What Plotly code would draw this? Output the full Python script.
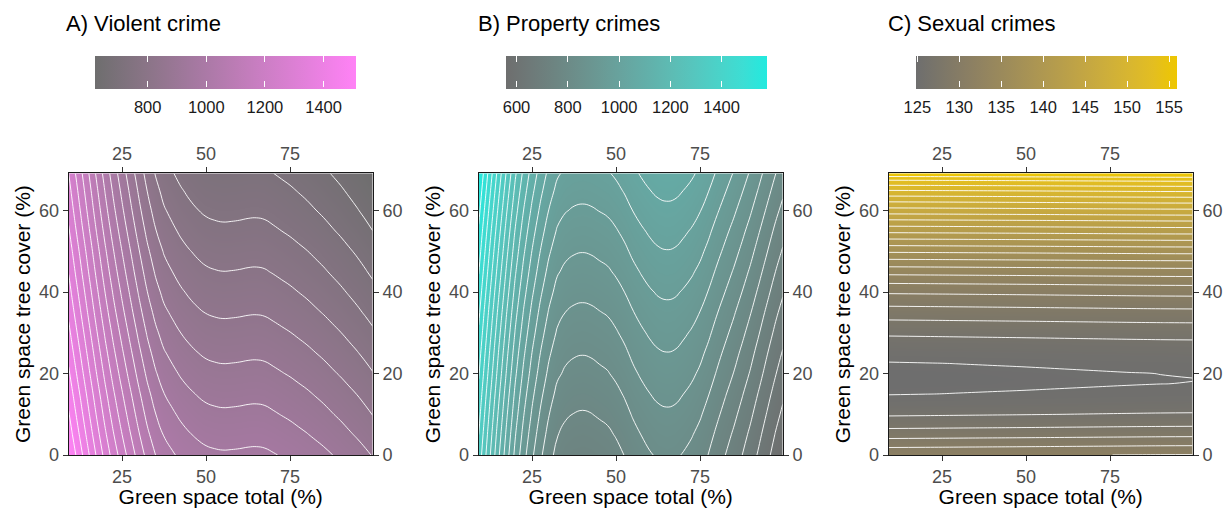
import numpy as np
import plotly.graph_objects as go

# ---------------- data ----------------
# Grid of "Green space total (%)" used for panels A and B
x_total = [9.1, 10, 12.5, 15, 17.5, 20, 22.5, 25, 27.5, 30, 32.5, 35, 37.5, 40, 42.5, 45,
           47.5, 50, 52.5, 55, 57.5, 60, 62.5, 65, 67.5, 70, 72.5, 75, 77.5, 80, 82.5, 85,
           87.5, 90, 92.5, 95, 97.5, 99.6]
# Grid of "Green space tree cover (%)" used for panels A and B
y_tree = [0, 5, 10, 15, 20, 25, 30, 35, 40, 45, 50, 55, 60, 65, 69.2]

# A) Violent crime: partial effect of green space total (at max tree cover) and of tree cover
violent_x_effect = [1258, 1239, 1187, 1134, 1081, 1030, 983, 940, 899, 859, 822, 792, 769, 755,
                    742, 732, 724, 718, 715, 713.5, 714, 715, 716.5, 717, 715.5, 711, 706, 701, 695,
                    689, 682, 675, 667, 659, 650, 641, 631, 622]
violent_y_effect = [255, 234, 214, 195, 175, 156, 137, 118, 100, 82, 65, 47, 30, 14, 0]

# B) Property crimes
property_x_effect = [1336, 1305, 1220, 1137, 1058, 984, 923, 871, 827, 790, 762, 749, 743, 741,
                     743, 748, 753, 763, 776, 792, 805, 816, 824, 827, 825, 817, 807, 793, 774,
                     752, 731, 710, 687, 663, 636, 608, 580, 559]
property_y_effect = [0, 15, 31, 47, 64, 80, 97, 114, 132, 150, 168, 186, 205, 224, 240]

# C) Sexual crimes
sexual_x = [9.1, 20, 30, 40, 50, 60, 70, 80, 90, 99.6]
sexual_x_effect = [124.90, 124.93, 124.96, 124.99, 125.02, 125.055, 125.09, 125.125, 125.155, 125.172]
sexual_y = [0, 2.5, 5, 7.5, 10, 12.5, 15, 17.5, 18.5, 20, 22.5, 25, 27.5, 30, 32.5, 35, 37.5,
            40, 42.5, 45, 47.5, 50, 52.5, 55, 57.5, 60, 62.5, 65, 67.5, 69.2]
sexual_y_effect = [6.72, 5.2, 3.7, 2.44, 1.45, 0.71, 0.24, 0.02, 0.0, 0.03, 0.23, 0.62, 1.12,
                   1.83, 2.68, 3.64, 4.66, 5.76, 7.12, 8.73, 10.48, 12.42, 14.44, 16.57, 18.65,
                   20.94, 23.17, 25.55, 28.21, 30.7]

titles = ["A) Violent crime", "B) Property crimes", "C) Sexual crimes"]
scale_ranges = [(622, 1512), (558, 1576), (124.9, 156.0)]
scale_ticks = [[800, 1000, 1200, 1400], [600, 800, 1000, 1200, 1400],
               [125, 130, 135, 140, 145, 150, 155]]
contour_levels = [(668.7, 1510, 42.1), (597.9, 1530, 44.3), (125.18, 155.0, 1.33)]
high_colors = ["#FF82F6", "#22EADF", "#EEC700"]
low_color = "#6E6E6E"

x_ticks = [25, 50, 75]
y_ticks = [0, 20, 40, 60]
x_label = "Green space total (%)"
y_label = "Green space tree cover (%)"

# ---------------- helpers ----------------
def _lin(c):
    c = c / 255.0
    return c / 12.92 if c <= 0.04045 else ((c + 0.055) / 1.055) ** 2.4

def _gam(c):
    c = 12.92 * c if c <= 0.0031308 else 1.055 * (max(c, 0) ** (1 / 2.4)) - 0.055
    return int(max(0, min(255, round(c * 255))))

def hex_rgb(h):
    h = h.lstrip('#')
    return tuple(int(h[i:i + 2], 16) for i in (0, 2, 4))

def rgb_lab(rgb):
    r, g, b = [_lin(v) for v in rgb]
    X = (0.4124 * r + 0.3576 * g + 0.1805 * b) / 0.95047
    Y = (0.2126 * r + 0.7152 * g + 0.0722 * b)
    Z = (0.0193 * r + 0.1192 * g + 0.9505 * b) / 1.08883
    f = lambda t: t ** (1 / 3) if t > 0.008856 else 7.787 * t + 16 / 116
    fx, fy, fz = f(X), f(Y), f(Z)
    return (116 * fy - 16, 500 * (fx - fy), 200 * (fy - fz))

def lab_rgb(lab):
    L, a, b = lab
    fy = (L + 16) / 116
    fx = fy + a / 500
    fz = fy - b / 200
    finv = lambda t: t ** 3 if t ** 3 > 0.008856 else (t - 16 / 116) / 7.787
    X, Y, Z = 0.95047 * finv(fx), finv(fy), 1.08883 * finv(fz)
    r = 3.2406 * X - 1.5372 * Y - 0.4986 * Z
    g = -0.9689 * X + 1.8758 * Y + 0.0415 * Z
    bb = 0.0557 * X - 0.2040 * Y + 1.0570 * Z
    return tuple(_gam(v) for v in (r, g, bb))

def lab_scale(c0, c1, n=12):
    l0, l1 = rgb_lab(hex_rgb(c0)), rgb_lab(hex_rgb(c1))
    out = []
    for i in range(n):
        t = i / (n - 1)
        lab = tuple(l0[k] + (l1[k] - l0[k]) * t for k in range(3))
        r, g, b = lab_rgb(lab)
        out.append([t, f"rgb({r},{g},{b})"])
    return out

# ---------------- figure ----------------
# The page body has an 8 px margin, so the figure is drawn 8 px smaller and
# all screen positions below are shifted by that offset.
OFF = 8
W, H = 1231 - OFF, 508 - OFF
FONT = "Liberation Sans, Arial, Helvetica, sans-serif"
px_x = lambda v: (v - OFF) / W
px_y = lambda v: 1 - (v - OFF) / H

panel_left = [68.7, 478.7, 888.7]
panel_w = 304.0
plot_top, plot_bot = 173.3, 455.0
bar_left = [95.7, 506.0, 916.7]
bar_len = 260.5
bar_top, bar_h = 56.0, 31.0
title_x = [64.0, 475.6, 885.6]

surfaces = [
    (x_total, y_tree, np.add.outer(violent_y_effect, violent_x_effect)),
    (x_total, y_tree, np.add.outer(property_y_effect, property_x_effect)),
    (sexual_x, sexual_y, np.add.outer(sexual_y_effect, sexual_x_effect)),
]

fig = go.Figure()
layout = dict(width=W, height=H, margin=dict(l=0, r=0, t=0, b=0, autoexpand=False),
              paper_bgcolor="white", plot_bgcolor="white",
              font=dict(family=FONT), showlegend=False, annotations=[])

axis_common = dict(showgrid=False, zeroline=False, showline=True, linecolor="#1a1a1a",
                   linewidth=1.2, ticks="outside", ticklen=5, tickwidth=1.1,
                   tickcolor="#333333", tickfont=dict(size=18, color="#4D4D4D", family=FONT))

for i in range(3):
    n = i + 1
    xs, ys, z = surfaces[i]
    xr = [xs[0], xs[-1]]
    yr = [ys[0], ys[-1]]
    xa, ya = ("x", "y") if n == 1 else (f"x{n}", f"y{n}")
    xa2, ya2 = f"x{n + 3}", f"y{n + 3}"
    cmin, cmax = scale_ranges[i]
    cs = lab_scale(low_color, high_colors[i])
    cx = px_x(bar_left[i] + bar_len / 2)

    fig.add_trace(go.Heatmap(
        x=xs, y=ys, z=z, zsmooth="best", colorscale=cs, zmin=cmin, zmax=cmax,
        xaxis=xa, yaxis=ya, hoverinfo="skip",
        colorbar=dict(orientation="h", x=cx, xanchor="center", y=px_y(bar_top), yanchor="top",
                      len=bar_len, lenmode="pixels", thickness=bar_h, thicknessmode="pixels",
                      xpad=0, ypad=0, outlinewidth=0, tickvals=scale_ticks[i],
                      ticks="outside", ticklen=7, tickcolor="rgba(0,0,0,0)",
                      tickfont=dict(size=16.5, color="#1a1a1a", family=FONT))))
    s, e, d = contour_levels[i]
    fig.add_trace(go.Contour(
        x=xs, y=ys, z=z, showscale=False, hoverinfo="skip", xaxis=xa, yaxis=ya,
        contours=dict(coloring="none", start=s, end=e, size=d),
        line=dict(color="white", width=0.9, smoothing=1.3)))
    # white tick marks at the bottom and top edge of the colour bar
    for pos, tk in ((bar_top + bar_h, "inside"), (bar_top, "outside")):
        fig.add_trace(go.Scatter(
            x=[None], y=[None], mode="markers", xaxis=xa2, yaxis=ya2, hoverinfo="skip",
            marker=dict(color=[cmin], colorscale=cs, cmin=cmin, cmax=cmax, showscale=True,
                        colorbar=dict(orientation="h", x=cx, xanchor="center", y=px_y(pos),
                                      yanchor="top", len=bar_len, lenmode="pixels",
                                      thickness=0, xpad=0, ypad=0, outlinewidth=0,
                                      tickvals=scale_ticks[i], ticks=tk, ticklen=6,
                                      tickwidth=1.2, tickcolor="white",
                                      showticklabels=False))))

    dom_x = [px_x(panel_left[i]), px_x(panel_left[i] + panel_w)]
    dom_y = [px_y(plot_bot), px_y(plot_top)]
    k = "" if n == 1 else str(n)
    layout[f"xaxis{k}"] = dict(axis_common, domain=dom_x, range=xr, tickvals=x_ticks,
                               anchor=ya, title=dict(text=x_label, standoff=3,
                                                     font=dict(size=21, color="black", family=FONT)))
    layout[f"yaxis{k}"] = dict(axis_common, domain=dom_y, range=yr, tickvals=y_ticks,
                               anchor=xa, title=dict(text=y_label, standoff=2,
                                                     font=dict(size=21, color="black", family=FONT)))
    layout[f"xaxis{n + 3}"] = dict(axis_common, overlaying=xa, side="top", range=xr,
                                   tickvals=x_ticks, anchor=ya2)
    layout[f"yaxis{n + 3}"] = dict(axis_common, overlaying=ya, side="right", range=yr,
                                   tickvals=y_ticks, anchor=xa2)
    layout["annotations"].append(dict(
        text=titles[i], x=px_x(title_x[i]), y=px_y(23.5), xref="paper", yref="paper",
        xanchor="left", yanchor="middle", showarrow=False,
        font=dict(size=22, color="black", family=FONT)))

fig.update_layout(**layout)
fig.write_html("out.html")
